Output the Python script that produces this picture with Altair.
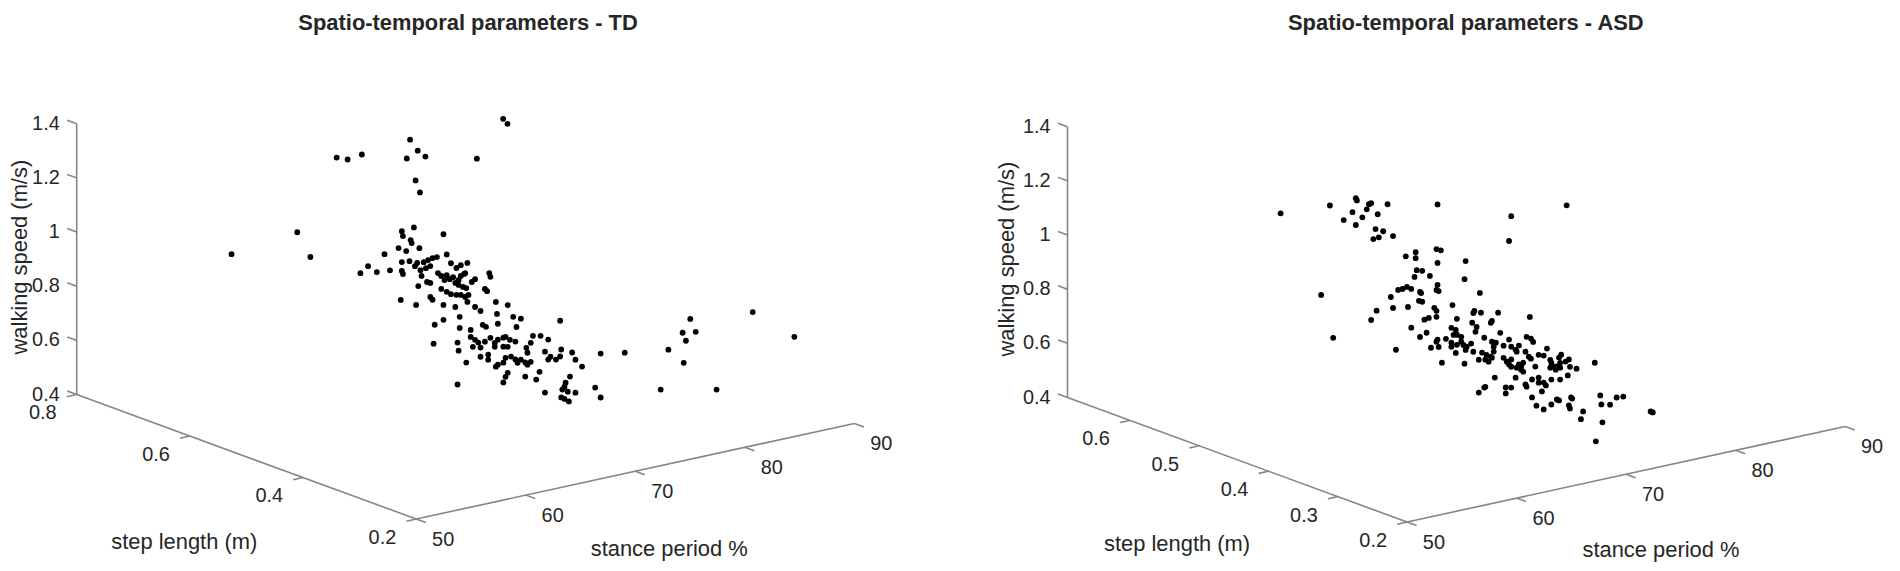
import altair as alt
import pandas as pd

# ---------------- data ----------------
TD_STANCE = [
    53.8, 59.8, 61.0, 63.4, 64.4, 65.7, 60.4, 61.1, 61.9, 62.6, 63.1,
    78.6, 79.0, 70.1, 70.8, 71.5, 69.8, 76.2, 70.6, 71.0,
    61.6, 62.7, 61.7, 62.4, 62.5, 61.3, 62.0, 63.2, 65.4, 61.6,
    62.3, 63.0, 63.6, 64.0, 64.4, 64.8, 65.7, 61.6, 61.7, 62.8,
    63.3, 63.8, 64.2, 63.4, 63.9, 64.2, 63.1, 64.9, 65.2, 65.5,
    65.7, 65.2, 65.7, 61.5, 62.9, 64.2, 64.4, 65.4, 65.4, 64.6, 64.5,
    63.4, 63.7, 63.9, 64.2, 64.4, 64.7, 63.5, 64.0, 64.4, 65.0,
    64.8, 64.2, 64.6, 64.9, 65.4, 65.7, 63.5, 64.0, 64.4, 64.8,
    65.1, 67.0, 67.1, 66.6, 66.8, 63.9, 65.0, 65.7, 66.2, 67.6,
    64.3, 64.3, 65.3, 66.4, 66.7, 67.7, 64.1, 64.2, 64.9, 64.1,
    65.3, 65.7, 66.0, 65.5, 66.2, 66.6, 67.1, 67.5, 67.5,
    66.2, 66.9, 66.9, 67.6,
    66.1, 65.2, 66.6, 67.3, 66.9, 65.2, 65.7, 65.9, 66.3, 66.8,
    66.1, 65.7, 65.2, 65.7, 65.9, 66.4, 66.8, 67.0, 67.3, 67.7,
    67.9, 68.2, 68.4, 69.1, 69.8, 67.8, 68.2, 67.9, 69.5, 69.8,
    70.0, 70.5, 66.1, 65.9, 65.7, 67.7, 68.7, 69.0, 69.5,
    68.3, 68.3, 68.4, 69.4, 69.7, 70.3, 69.2, 68.8, 68.7, 68.5,
    69.0, 69.7, 68.4, 68.7, 69.1, 71.5, 72.0, 72.0, 74.2,
    74.9, 75.6, 76.9, 77.2, 77.6, 78.1, 77.0, 80.0, 83.3, 87.1,
]
TD_STEP = [
    0.6, 0.6, 0.6, 0.6, 0.6, 0.6, 0.5, 0.5, 0.5, 0.5, 0.5,
    0.6, 0.6, 0.6, 0.6, 0.6, 0.6, 0.6, 0.6, 0.6,
    0.45, 0.45, 0.45, 0.45, 0.45, 0.45, 0.45, 0.45, 0.45, 0.45,
    0.45, 0.45, 0.45, 0.45, 0.45, 0.45, 0.45, 0.45, 0.45, 0.45,
    0.45, 0.45, 0.45, 0.45, 0.45, 0.45, 0.45, 0.45, 0.45, 0.45,
    0.45, 0.45, 0.45, 0.45, 0.45, 0.45, 0.45, 0.45, 0.45, 0.45, 0.45,
    0.4, 0.4, 0.4, 0.4, 0.4, 0.4, 0.4, 0.4, 0.4, 0.4,
    0.4, 0.4, 0.4, 0.4, 0.4, 0.4, 0.4, 0.4, 0.4, 0.4,
    0.4, 0.4, 0.4, 0.4, 0.4, 0.4, 0.4, 0.4, 0.4, 0.4,
    0.4, 0.4, 0.4, 0.4, 0.4, 0.4, 0.4, 0.4, 0.4, 0.4,
    0.4, 0.4, 0.4, 0.4, 0.4, 0.4, 0.4, 0.4, 0.4,
    0.4, 0.4, 0.4, 0.4,
    0.35, 0.35, 0.35, 0.35, 0.35, 0.35, 0.35, 0.35, 0.35, 0.35,
    0.35, 0.35, 0.35, 0.35, 0.35, 0.35, 0.35, 0.35, 0.35, 0.35,
    0.35, 0.35, 0.35, 0.35, 0.35, 0.35, 0.35, 0.35, 0.35, 0.35,
    0.35, 0.35, 0.35, 0.35, 0.35, 0.35, 0.35, 0.35, 0.35,
    0.3, 0.3, 0.3, 0.3, 0.3, 0.3, 0.3, 0.3, 0.3, 0.3,
    0.3, 0.3, 0.3, 0.3, 0.3, 0.3, 0.3, 0.3, 0.3,
    0.25, 0.25, 0.25, 0.25, 0.25, 0.25, 0.25, 0.25, 0.25, 0.25,
]
TD_SPEED = [
    1.038, 1.066, 0.964, 1.310, 1.294, 1.301, 0.986, 1.006, 0.977, 1.037, 0.973,
    1.319, 1.297, 1.317, 1.270, 1.242, 1.250, 1.193, 1.162, 1.114,
    1.169, 1.173, 1.150, 1.129, 1.117, 1.109, 1.092, 1.092, 1.124, 1.055,
    1.052, 1.039, 1.037, 1.041, 1.045, 1.045, 1.047, 1.022, 1.010, 1.029,
    1.010, 1.013, 1.017, 0.988, 0.961, 0.955, 0.953, 0.985, 0.972, 0.954,
    0.970, 0.924, 0.909, 0.916, 0.885, 0.903, 0.891, 0.863, 0.808, 0.797, 0.728,
    1.014, 1.019, 0.996, 1.004, 1.017, 1.022, 1.072, 1.050, 1.057, 1.060,
    1.024, 0.986, 0.975, 0.968, 0.986, 0.994, 0.958, 0.951, 0.947, 0.936,
    0.941, 1.005, 0.990, 0.950, 0.940, 0.907, 0.916, 0.891, 0.872, 0.893,
    0.867, 0.826, 0.810, 0.819, 0.809, 0.848, 0.774, 0.743, 0.693, 0.619,
    0.784, 0.770, 0.757, 0.746, 0.737, 0.755, 0.765, 0.743, 0.728,
    0.703, 0.705, 0.686, 0.654,
    0.933, 0.872, 0.885, 0.872, 0.845, 0.813, 0.816, 0.817, 0.803, 0.792,
    0.779, 0.783, 0.721, 0.724, 0.740, 0.740, 0.726, 0.712, 0.721, 0.707,
    0.697, 0.705, 0.799, 0.793, 0.773, 0.760, 0.775, 0.741, 0.731, 0.699,
    0.708, 0.693, 0.683, 0.670, 0.651, 0.655, 0.635, 0.661, 0.580,
    0.894, 0.762, 0.787, 0.767, 0.738, 0.707, 0.680, 0.661, 0.647, 0.638,
    0.626, 0.616, 0.610, 0.602, 0.589, 0.619, 0.578, 0.740, 0.724,
    0.620, 0.761, 0.812, 0.780, 0.857, 0.805, 0.700, 0.575, 0.832, 0.707,
]

ASD_STANCE = [
    60.6, 65.1, 64.3, 64.4, 63.2, 64.0, 64.3, 64.9, 65.3, 65.5, 65.7,
    66.3, 67.2, 66.1, 66.8, 66.4, 65.9, 67.7, 68.6, 70.9, 69.0, 68.8,
    65.7, 66.6, 66.6, 68.5, 68.9, 68.6, 68.0, 66.7, 67.2, 66.5, 67.9, 67.9,
    64.3, 67.5, 65.0, 65.4, 65.8, 66.2, 67.0, 67.1, 68.6, 68.5,
    68.7, 69.3, 67.7, 65.9, 66.9, 67.2, 66.8, 68.3, 68.5, 68.8,
    69.4, 68.7, 67.8, 66.2, 65.7, 67.4, 67.8, 68.5, 67.2, 70.4, 70.3, 70.7,
    68.6, 69.0, 68.9, 66.2, 67.6, 67.0, 66.7, 67.1, 67.2, 67.6,
    66.9, 68.0, 69.7, 68.6, 68.5, 66.2, 65.4, 68.0, 68.7, 66.7,
    66.7, 67.2, 67.6, 67.8, 68.1, 68.0, 68.5, 67.1, 68.7, 64.8,
    70.4, 67.6, 67.4, 68.3, 68.8, 69.0, 69.4, 69.7, 69.5, 70.4,
    70.8, 71.0, 70.3, 69.5, 69.9, 70.3, 67.4, 69.2, 69.8, 70.1,
    70.4, 68.3, 68.6, 68.8, 69.0, 69.0, 69.7, 69.9, 69.9, 70.1,
    69.5, 70.1, 70.6, 70.8, 71.2, 71.5, 68.8, 69.1,
    69.4, 69.5, 69.7, 69.9, 69.4, 70.2, 70.3, 70.4, 70.8, 70.3,
    70.0, 71.1, 71.2, 71.8, 70.3, 69.0, 67.9,
    67.5, 69.4, 70.3, 70.4, 70.9, 71.5, 71.5, 68.8, 69.0, 71.8,
    69.5, 70.3, 71.0, 69.2, 69.7, 69.8, 68.5, 68.5, 69.0, 70.9,
    71.3, 68.8, 69.5, 70.0, 70.2, 71.1, 71.2, 71.3, 71.4, 72.2,
    72.4, 70.8, 70.9, 71.7, 72.3, 72.9, 71.0, 70.4, 75.4, 75.6,
]
ASD_STEP = [
    0.55, 0.55, 0.5, 0.5, 0.5, 0.5, 0.5, 0.5, 0.5, 0.5, 0.5,
    0.5, 0.5, 0.5, 0.5, 0.5, 0.5, 0.5, 0.45, 0.3, 0.35, 0.35,
    0.45, 0.45, 0.45, 0.45, 0.45, 0.45, 0.4, 0.45, 0.45, 0.45, 0.45, 0.4,
    0.55, 0.5, 0.45, 0.45, 0.45, 0.45, 0.45, 0.45, 0.45, 0.45,
    0.45, 0.4, 0.5, 0.45, 0.45, 0.45, 0.4, 0.45, 0.45, 0.4,
    0.4, 0.4, 0.35, 0.5, 0.5, 0.45, 0.45, 0.45, 0.4, 0.4, 0.4, 0.35,
    0.4, 0.4, 0.4, 0.45, 0.45, 0.45, 0.4, 0.4, 0.4, 0.4,
    0.4, 0.35, 0.4, 0.45, 0.45, 0.4, 0.55, 0.45, 0.45, 0.4,
    0.4, 0.4, 0.4, 0.4, 0.4, 0.4, 0.4, 0.4, 0.4, 0.45,
    0.4, 0.35, 0.35, 0.35, 0.35, 0.35, 0.35, 0.35, 0.35, 0.35,
    0.35, 0.35, 0.35, 0.4, 0.4, 0.4, 0.35, 0.4, 0.4, 0.4,
    0.4, 0.35, 0.35, 0.35, 0.35, 0.35, 0.35, 0.35, 0.35, 0.35,
    0.35, 0.35, 0.35, 0.35, 0.35, 0.35, 0.3, 0.3,
    0.3, 0.3, 0.3, 0.3, 0.3, 0.3, 0.3, 0.3, 0.3, 0.3,
    0.3, 0.3, 0.3, 0.3, 0.25, 0.45, 0.4,
    0.35, 0.35, 0.35, 0.35, 0.35, 0.35, 0.35, 0.3, 0.3, 0.35,
    0.3, 0.3, 0.3, 0.4, 0.4, 0.4, 0.35, 0.35, 0.35, 0.35,
    0.35, 0.3, 0.3, 0.3, 0.3, 0.3, 0.3, 0.3, 0.3, 0.3,
    0.3, 0.25, 0.25, 0.25, 0.25, 0.25, 0.25, 0.25, 0.25, 0.25,
]
ASD_SPEED = [
    1.118, 1.107, 1.188, 1.179, 1.117, 1.139, 1.089, 1.112, 1.138, 1.155, 1.157,
    1.111, 1.140, 1.058, 1.044, 1.025, 1.023, 1.018, 1.174, 1.291, 1.221, 1.131,
    1.008, 1.015, 0.993, 1.010, 1.002, 0.958, 1.017, 0.948, 0.941, 0.925, 0.916, 0.951,
    0.784, 0.795, 0.890, 0.890, 0.894, 0.883, 0.865, 0.860, 0.877, 0.859,
    0.853, 0.888, 0.753, 0.819, 0.833, 0.827, 0.865, 0.795, 0.782, 0.826,
    0.814, 0.819, 0.875, 0.756, 0.726, 0.759, 0.762, 0.760, 0.811, 0.775, 0.769, 0.834,
    0.784, 0.765, 0.748, 0.740, 0.709, 0.699, 0.782, 0.771, 0.752, 0.741,
    0.754, 0.799, 0.719, 0.675, 0.668, 0.746, 0.616, 0.650, 0.647, 0.727,
    0.712, 0.715, 0.723, 0.709, 0.700, 0.689, 0.708, 0.686, 0.676, 0.671,
    0.698, 0.766, 0.753, 0.749, 0.767, 0.739, 0.724, 0.737, 0.716, 0.763,
    0.753, 0.739, 0.709, 0.666, 0.654, 0.644, 0.735, 0.642, 0.637, 0.627,
    0.639, 0.704, 0.687, 0.675, 0.665, 0.692, 0.667, 0.658, 0.646, 0.670,
    0.657, 0.637, 0.688, 0.679, 0.646, 0.687, 0.755, 0.778,
    0.734, 0.722, 0.706, 0.693, 0.705, 0.735, 0.715, 0.744, 0.715, 0.697,
    0.704, 0.720, 0.692, 0.680, 0.762, 0.586, 0.639,
    0.638, 0.621, 0.588, 0.579, 0.601, 0.603, 0.584, 0.655, 0.643, 0.549,
    0.660, 0.653, 0.662, 0.521, 0.535, 0.537, 0.593, 0.571, 0.588, 0.535,
    0.501, 0.556, 0.568, 0.582, 0.577, 0.551, 0.538, 0.578, 0.573, 0.490,
    0.517, 0.637, 0.603, 0.595, 0.616, 0.614, 0.536, 0.471, 0.537, 0.532,
]

assert len(TD_STANCE) == len(TD_STEP) == len(TD_SPEED)
assert len(ASD_STANCE) == len(ASD_STEP) == len(ASD_SPEED)

STANCE_TICKS = [50, 60, 70, 80, 90]
SPEED_TICKS = [0.4, 0.6, 0.8, 1.0, 1.2, 1.4]
SPEED_LABELS = ["0.4", "0.6", "0.8", "1", "1.2", "1.4"]
TD_STEP_TICKS = [0.2, 0.4, 0.6, 0.8]
TD_STEP_LABELS = ["0.2", "0.4", "0.6", "0.8"]
ASD_STEP_TICKS = [0.2, 0.3, 0.4, 0.5, 0.6]
ASD_STEP_LABELS = ["0.2", "0.3", "0.4", "0.5", "0.6"]

TITLES = {"TD": "Spatio-temporal parameters - TD", "ASD": "Spatio-temporal parameters - ASD"}

# ---------------- layout / style ----------------
W, H, M = 1900, 571, 8
FONT = "Liberation Sans"
TXT = "#262626"
AXC = "#858585"

# per-panel view geometry (page px of the front-bottom corner, step-length limits)
PANELS = {
    "TD": {"ox": 418, "oy": 520, "lmin": 0.2, "lmax": 0.8,
           "title": (470, 29), "zlab": (20, 257), "ylab": (185, 543), "xlab": (672, 550)},
    "ASD": {"ox": 1413, "oy": 523, "lmin": 0.2, "lmax": 0.69,
            "title": (1472, 29), "zlab": (1011, 259), "ylab": (1182, 545), "xlab": (1668, 551)},
}

XS = alt.Scale(domain=[M, W], nice=False, zero=False)
YS = alt.Scale(domain=[M, H], nice=False, zero=False, reverse=True)


def proj(s, l, v, P):
    span = round(P["lmax"] - P["lmin"], 4)
    frac = f"((datum.{l}-{P['lmin']})/{span})"
    px = f"{P['ox']} + 11*(datum.{s}-50) - 341*{frac}"
    py = f"{P['oy']} - 2.4*(datum.{s}-50) - 125*{frac} - 272*(datum.{v}-0.4)"
    return px, py


def panel(name, stance, step, speed, step_ticks, step_labels):
    P = PANELS[name]
    lmin, lmax = P["lmin"], P["lmax"]
    lr = lmax - lmin
    layers = []

    # axis lines
    seg = pd.DataFrame({
        "s1": [50, 50, 50], "l1": [lmin, lmin, lmax], "v1": [0.4, 0.4, 0.4],
        "s2": [90, 50, 50], "l2": [lmin, lmax, lmax], "v2": [0.4, 0.4, 1.4],
    })
    # tick marks (pointing outwards from the box)
    tk = []
    for t in STANCE_TICKS:
        tk.append((t, lmin, 0.4, t, lmin - 0.028 * lr, 0.4))
    for t in step_ticks:
        tk.append((50, t, 0.4, 50 - 0.9, t, 0.4))
    for t in SPEED_TICKS:
        tk.append((50, lmax, t, 50, lmax + 0.028 * lr, t))
    tick = pd.DataFrame(tk, columns=["s1", "l1", "v1", "s2", "l2", "v2"])
    allseg = pd.concat([seg, tick], ignore_index=True)

    x1, y1 = proj("s1", "l1", "v1", P)
    x2, y2 = proj("s2", "l2", "v2", P)
    layers.append(
        alt.Chart(allseg).transform_calculate(x1=x1, y1=y1, x2=x2, y2=y2)
        .mark_rule(color=AXC, strokeWidth=1.6)
        .encode(x=alt.X("x1:Q", scale=XS, axis=None), y=alt.Y("y1:Q", scale=YS, axis=None),
                x2="x2:Q", y2="y2:Q")
    )

    # tick labels
    def labels(df, **kw):
        px, py = proj("s", "l", "v", P)
        return (alt.Chart(df).transform_calculate(px=px, py=py)
                .mark_text(font=FONT, fontSize=20, color=TXT, **kw)
                .encode(x=alt.X("px:Q", scale=XS, axis=None), y=alt.Y("py:Q", scale=YS, axis=None),
                        text="lab:N"))

    layers.append(labels(pd.DataFrame({"s": STANCE_TICKS, "l": [lmin] * 5, "v": [0.4] * 5,
                                       "lab": [str(t) for t in STANCE_TICKS]}),
                         align="center", baseline="middle", dx=27, dy=21))
    layers.append(labels(pd.DataFrame({"s": [50] * len(step_ticks), "l": step_ticks,
                                       "v": [0.4] * len(step_ticks), "lab": step_labels}),
                         align="center", baseline="middle", dx=-34, dy=19))
    layers.append(labels(pd.DataFrame({"s": [50] * 6, "l": [lmax] * 6, "v": SPEED_TICKS,
                                       "lab": SPEED_LABELS}),
                         align="right", baseline="middle", dx=-17, dy=0))

    # data points
    pts = pd.DataFrame({"stance": stance, "step": step, "speed": speed})
    px, py = proj("stance", "step", "speed", P)
    layers.append(
        alt.Chart(pts).transform_calculate(px=px, py=py)
        .mark_point(shape="circle", filled=True, size=34, color="black", opacity=1)
        .encode(x=alt.X("px:Q", scale=XS, axis=None), y=alt.Y("py:Q", scale=YS, axis=None))
    )

    # titles
    def text(t, pos, **kw):
        return (alt.Chart(pd.DataFrame({"t": [t]}))
                .mark_text(font=FONT, color=TXT, **kw)
                .encode(x=alt.value(pos[0] - M), y=alt.value(pos[1] - M), text="t:N"))

    layers.append(text(TITLES[name], P["title"], fontSize=22, fontWeight="bold",
                       align="center", baseline="alphabetic"))
    layers.append(text("walking speed (m/s)", P["zlab"], fontSize=22, angle=270,
                       align="center", baseline="middle"))
    layers.append(text("step length (m)", P["ylab"], fontSize=22,
                       align="center", baseline="middle"))
    layers.append(text("stance period %", P["xlab"], fontSize=22,
                       align="center", baseline="middle"))
    return layers


layers = (panel("TD", TD_STANCE, TD_STEP, TD_SPEED, TD_STEP_TICKS, TD_STEP_LABELS)
          + panel("ASD", ASD_STANCE, ASD_STEP, ASD_SPEED, ASD_STEP_TICKS, ASD_STEP_LABELS))

chart = (alt.layer(*layers)
         .properties(width=W - M, height=H - M, padding=0,
                     autosize=alt.AutoSizeParams(type="none"), background="white")
         .configure_view(stroke=None))

chart.save("out.html", embed_options={"renderer": "svg", "actions": False})
